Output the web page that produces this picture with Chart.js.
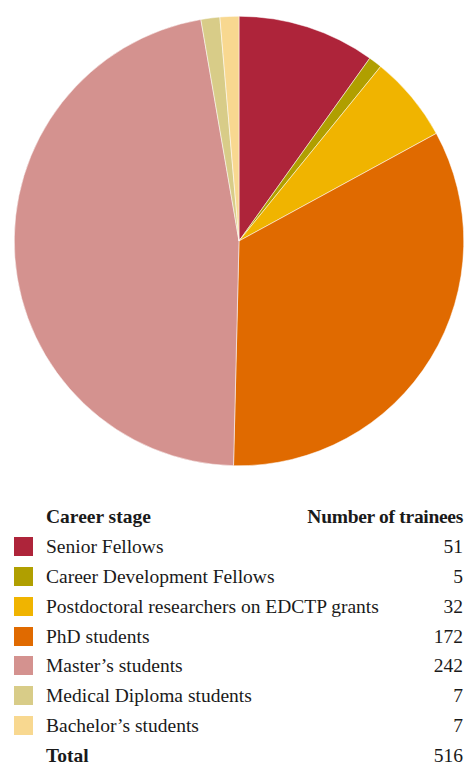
<!DOCTYPE html>
<html>
<head>
<meta charset="utf-8">
<script src="https://cdn.jsdelivr.net/npm/chart.js@4"></script>
<style>
    body { margin: 0; background: #fff; width: 466px; height: 766px; overflow: hidden; }
    #caja { position: relative; width: 466px; height: 482px; }
    #tabla { position: absolute; left: 0; top: 502px; width: 466px;
             font-family: "Liberation Serif", "DejaVu Serif", serif; font-size: 19.5px; color: #1a1a1a; }
    .fila { position: relative; height: 29.9px; display: flex; align-items: center; white-space: nowrap; }
    .sw { position: absolute; left: 14px; top: 5px; width: 19px; height: 19px; }
    .txt { position: absolute; left: 46px; }
    .num { position: absolute; right: 3px; }
    .cab, .tot .txt { font-weight: bold; }
    .cab .num { letter-spacing: -0.3px; }
</style>
</head>
<body>
<div id="caja"><canvas id="myChart" width="466" height="482"></canvas></div>
<div id="tabla"></div>
<script>
const etapas = ['Senior Fellows', 'Career Development Fellows', 'Postdoctoral researchers on EDCTP grants',
    'PhD students', 'Master\u2019s students', 'Medical Diploma students', 'Bachelor\u2019s students'];
const alumnos = [51, 5, 32, 172, 242, 7, 7];
const colores = ['#ae243a', '#b09f00', '#f0b400', '#e06a00', '#d4928f', '#d8cc88', '#f8d890'];

// tabla de leyenda
let filas = '<div class="fila cab"><span class="txt">Career stage</span><span class="num">Number of trainees</span></div>';
etapas.forEach((etapa, i) => {
    filas += `<div class="fila"><span class="sw" style="background:${colores[i]}"></span><span class="txt">${etapa}</span><span class="num">${alumnos[i]}</span></div>`;
});
const total = alumnos.reduce((a, b) => a + b, 0);
filas += `<div class="fila tot"><span class="txt">Total</span><span class="num">${total}</span></div>`;
document.getElementById('tabla').innerHTML = filas;

const ctx = document.getElementById('myChart').getContext('2d');
const myChart = new Chart(ctx, {
    type: 'pie',
    data: {
        labels: etapas,
        datasets: [{
            data: alumnos,
            backgroundColor: colores,
            borderColor: '#ffffff',
            borderWidth: 0.5
        }]
    },
    options: {
        responsive: false,
        animation: false,
        layout: { padding: { left: 14, right: 2, top: 16, bottom: 16 } },
        plugins: {
            legend: { display: false },
            tooltip: { enabled: false }
        }
    }
});
</script>
</body>
</html>
